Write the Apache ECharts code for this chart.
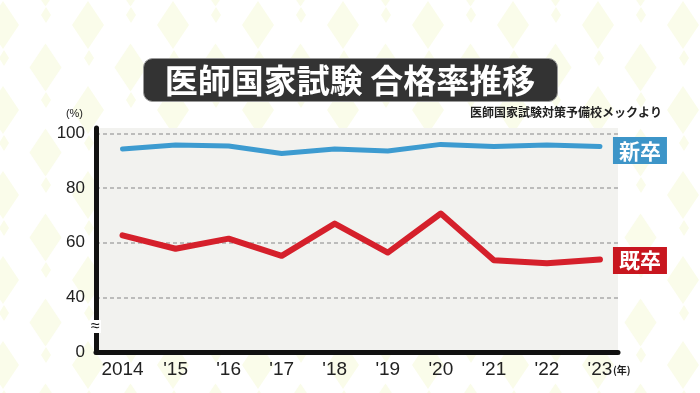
<!DOCTYPE html>
<html>
<head>
<meta charset="utf-8">
<script src="https://cdn.jsdelivr.net/npm/echarts@6/dist/echarts.min.js"></script>
<style>
html,body{margin:0;padding:0;background:#fff;}
#chart{width:700px;height:393px;}
</style>
</head>
<body>
<div id="chart"></div>
<script>
// ---- data ----
var categories = ['2014', "'15", "'16", "'17", "'18", "'19", "'20", "'21", "'22", "'23"];
var shinsotsu = [94.3, 95.8, 95.4, 92.7, 94.3, 93.6, 96.0, 95.2, 95.8, 95.2];   // 新卒
var kisotsu   = [62.7, 57.8, 61.5, 55.2, 67.0, 56.4, 70.7, 53.6, 52.5, 53.9];   // 既卒
var yTicks = [20, 40, 60, 80, 100];
var yTickLabels = ['0', '40', '60', '80', '100'];
var titleText = '医師国家試験 合格率推移';
var sourceText = '医師国家試験対策予備校メックより';

// ---- background pattern (decoration) ----
function makePattern() {
  var T = 85;
  var c = document.createElement('canvas');
  c.width = T; c.height = T;
  var ctx = c.getContext('2d');
  ctx.fillStyle = '#ffffff';
  ctx.fillRect(0, 0, T, T);
  ctx.fillStyle = '#fafcea';
  var shapes = [
    [3, 25, 32, 48], [45.5, 67.5, 32, 48],
    [46, 15, 10, 16], [4, 58, 10, 16]
  ];
  shapes.forEach(function (s) {
    for (var dx = -T; dx <= T; dx += T) {
      for (var dy = -T; dy <= T; dy += T) {
        var cx = s[0] + dx, cy = s[1] + dy, w = s[2] / 2, h = s[3] / 2;
        ctx.beginPath();
        ctx.moveTo(cx, cy - h);
        ctx.lineTo(cx + w, cy);
        ctx.lineTo(cx, cy + h);
        ctx.lineTo(cx - w, cy);
        ctx.closePath();
        ctx.fill();
      }
    }
  });
  return c;
}

var chart = echarts.init(document.getElementById('chart'), null, {renderer: 'canvas'});
var numFont = '"Liberation Sans", Arial, sans-serif';
var jpFont = '"Noto Sans CJK JP", sans-serif';

function toPairs(arr) { return arr.map(function (v, i) { return [i, v]; }); }

var option = {
  animation: false,
  backgroundColor: {image: makePattern(), repeat: 'repeat'},
  grid: {
    left: 96, right: 82, top: 128, bottom: 41,
    show: true, backgroundColor: '#f2f2ef', borderWidth: 0
  },
  xAxis: {
    type: 'value',
    min: -0.5, max: 9.34,
    axisLine: {show: true, onZero: false, lineStyle: {color: '#111', width: 5}},
    axisTick: {show: false},
    splitLine: {show: false},
    axisLabel: {
      customValues: categories.map(function (c, i) { return i; }),
      formatter: function (v) { return categories[Math.round(v)] || ''; },
      color: '#222', fontSize: 19, fontFamily: numFont, margin: 8
    }
  },
  yAxis: {
    type: 'value',
    min: 20, max: 102, interval: 20,
    axisLine: {show: true, onZero: false, lineStyle: {color: '#111', width: 5}},
    axisTick: {show: false},
    splitLine: {show: true, showMinLine: false, showMaxLine: false,
      lineStyle: {color: '#aaaaaa', width: 1.5, type: [4, 3]}},
    axisLabel: {
      formatter: function (v) {
        var k = yTicks.indexOf(v);
        return k >= 0 ? yTickLabels[k] : '';
      },
      color: '#222', fontSize: 17, fontFamily: numFont, margin: 11
    }
  },
  series: [
    {
      name: '新卒', type: 'line', data: toPairs(shinsotsu),
      symbol: 'none', lineStyle: {color: '#3d9bd0', width: 5, cap: 'round', join: 'round'},
      itemStyle: {color: '#3d9bd0'},
      endLabel: {
        show: true, formatter: '{a}', color: '#fff', fontSize: 21, fontWeight: 'bold',
        fontFamily: jpFont, backgroundColor: '#3d95c8', padding: [2, 6, 1, 6],
        lineHeight: 24, distance: 13, offset: [0, 4]
      }
    },
    {
      name: '既卒', type: 'line', data: toPairs(kisotsu),
      symbol: 'none', lineStyle: {color: '#d5202b', width: 6, cap: 'round', join: 'round'},
      itemStyle: {color: '#d5202b'},
      endLabel: {
        show: true, formatter: '{a}', color: '#fff', fontSize: 21, fontWeight: 'bold',
        fontFamily: jpFont, backgroundColor: '#c8161f', padding: [2, 6, 1, 6],
        lineHeight: 24, distance: 13, offset: [0, 1]
      }
    }
  ],
  graphic: [
    {type: 'rect', left: 143, top: 58, shape: {width: 414, height: 43, r: 9},
     style: {fill: '#333333', stroke: '#9a9a9a', lineWidth: 1}, z: 10},
    {type: 'text', x: 350, y: 80, z: 11,
     style: {text: titleText, fill: '#fff', fontSize: 33, fontWeight: 'bold', fontFamily: jpFont,
       align: 'center', verticalAlign: 'middle'}},
    {type: 'text', x: 662, y: 112, z: 11,
     style: {text: sourceText, fill: '#222', fontSize: 12, fontWeight: 'bold', fontFamily: jpFont,
       align: 'right', verticalAlign: 'middle'}},
    {type: 'text', x: 83, y: 114, z: 11,
     style: {text: '(%)', fill: '#222', fontSize: 11, fontFamily: numFont,
       align: 'right', verticalAlign: 'middle'}},
    {type: 'text', x: 613, y: 370, z: 11,
     style: {text: '(年)', fill: '#222', fontSize: 10, fontWeight: 'bold', fontFamily: jpFont,
       align: 'left', verticalAlign: 'middle'}},
    {type: 'rect', left: 91, top: 320, shape: {width: 10, height: 13},
     style: {fill: '#ffffff'}, z: 20},
    {type: 'text', x: 95.5, y: 326.5, z: 21,
     style: {text: '≈', fill: '#111', fontSize: 16, fontFamily: numFont,
       align: 'center', verticalAlign: 'middle'}}
  ]
};
chart.setOption(option);
</script>
</body>
</html>
